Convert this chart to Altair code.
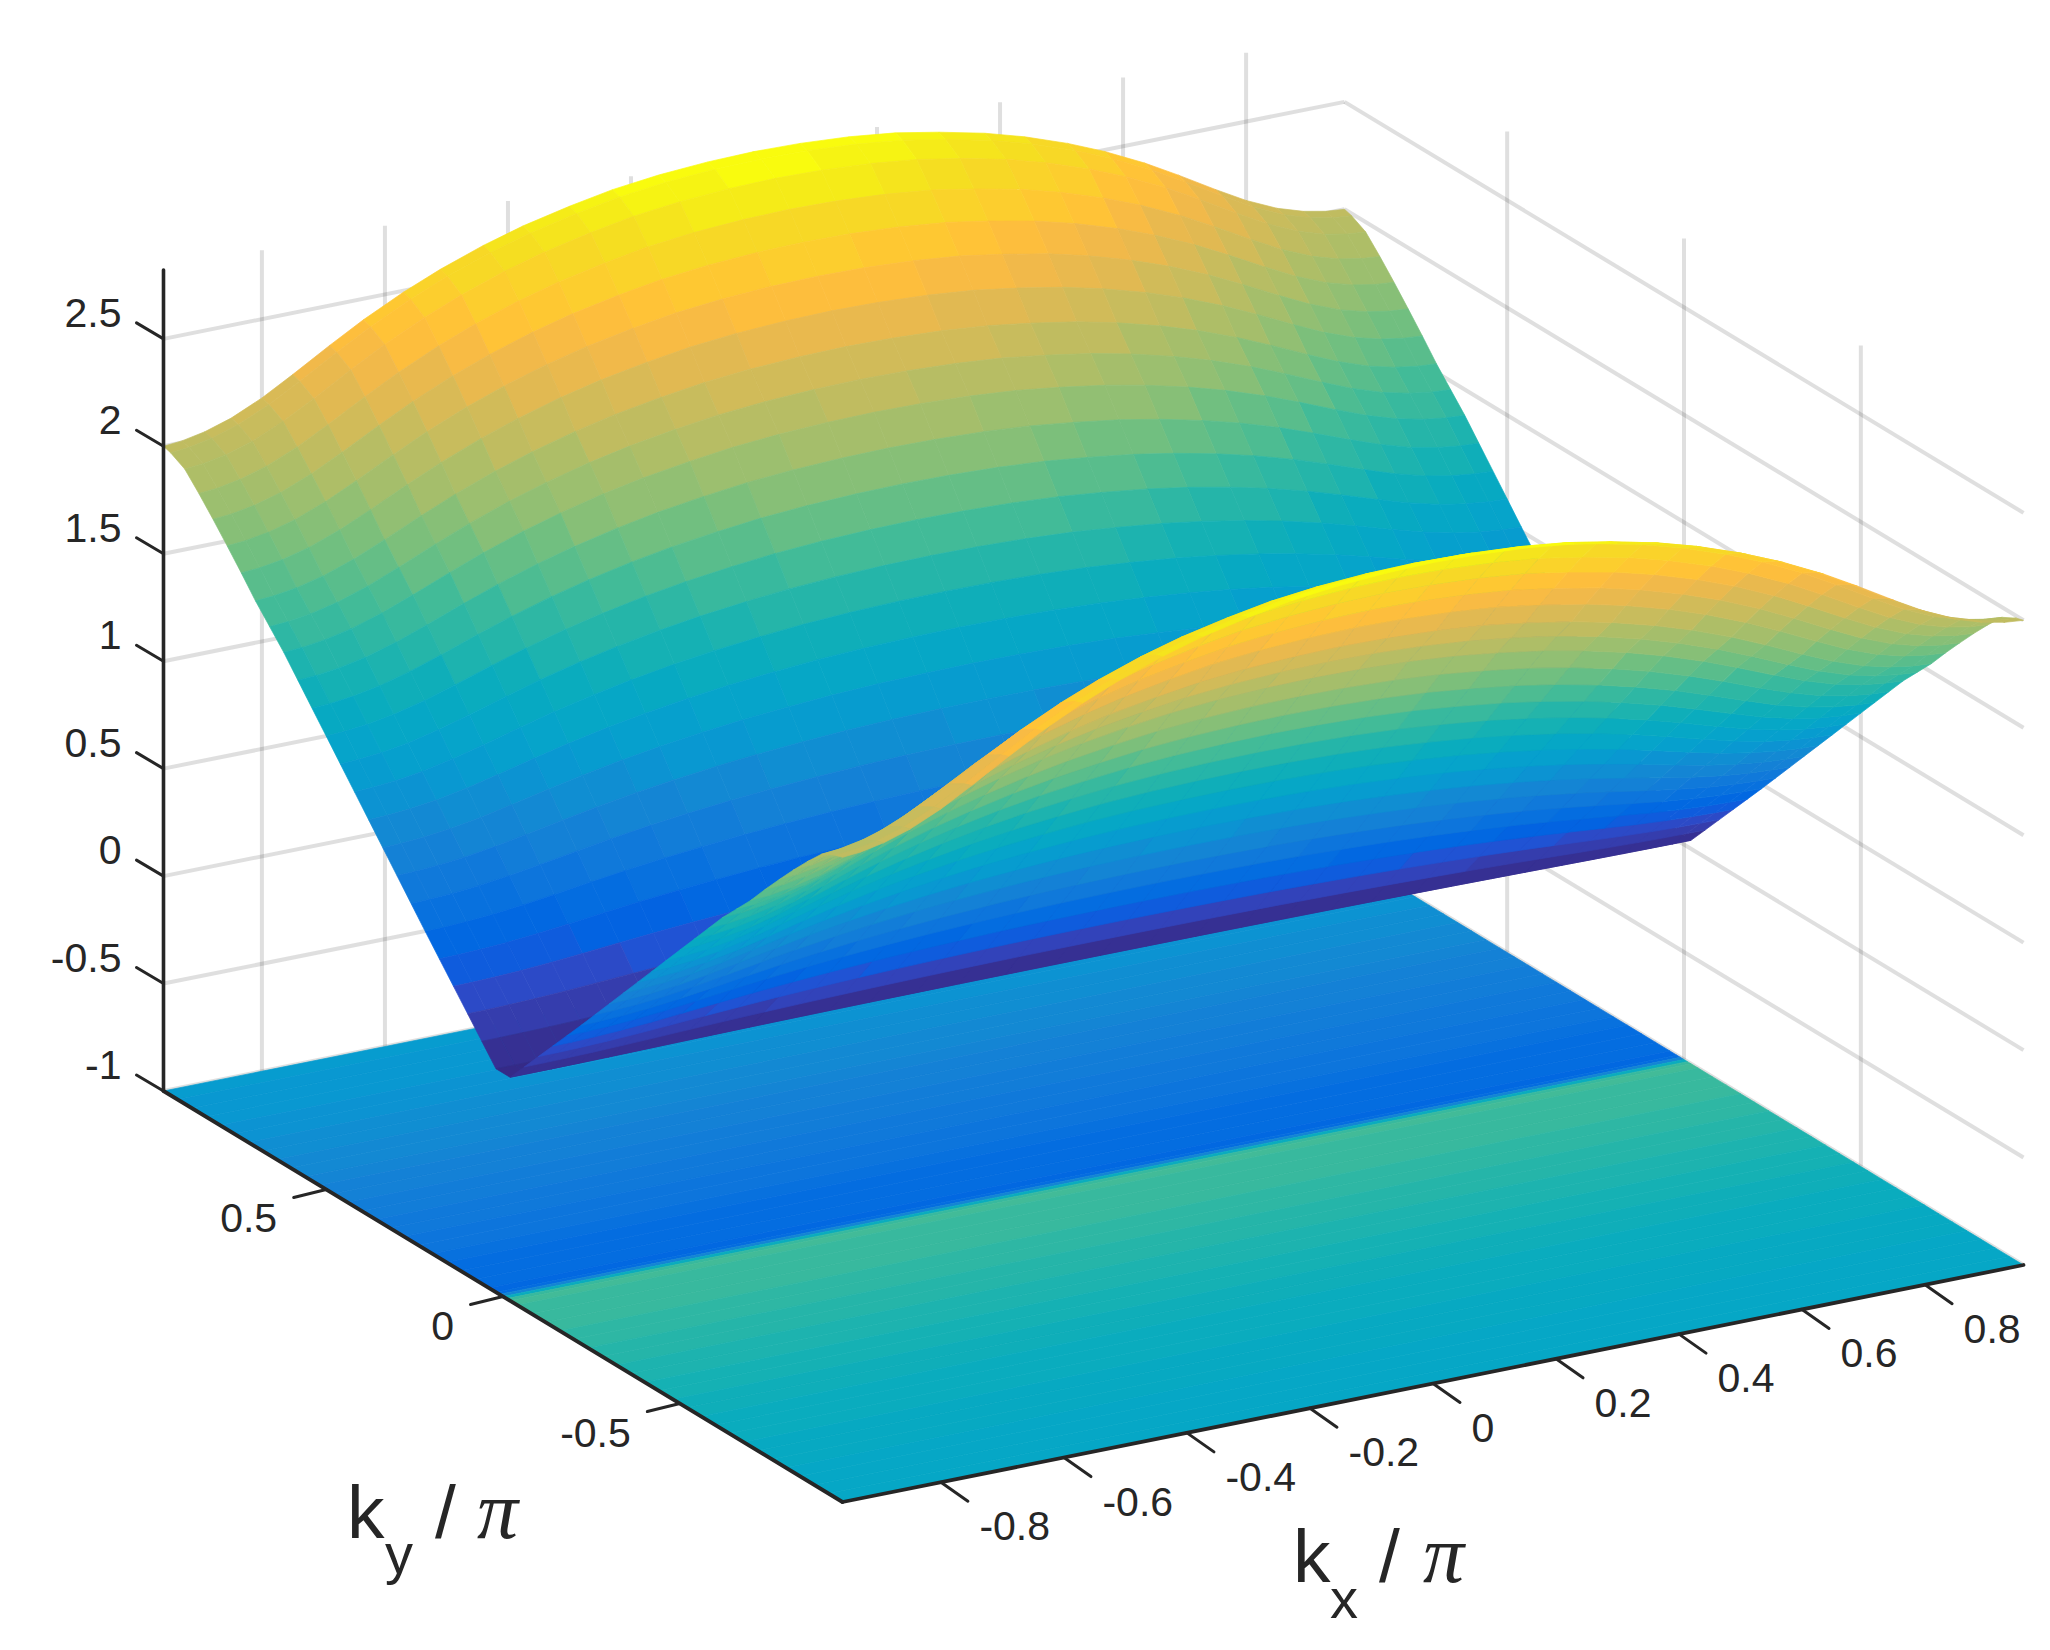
import altair as alt
import pandas as pd

# ---------- values ----------
KMAX = 0.96
ZMIN, ZMAX = -1.0, 2.82

# kx grid and the height of the surface along its outer edge |ky| = KMAX
kx_nodes = [-.96, -.93, -.893, -.85, -.80, -.75, -.69, -.635, -.57, -.51, -.44, -.375, -.30, -.23, -.155, -.075, 0,
            .075, .155, .23, .30, .375, .44, .51, .57, .635, .69, .75, .80, .85, .893, .93, .96]
ridge = [2.00, 2.008, 2.029, 2.068, 2.133, 2.213, 2.314, 2.402, 2.493, 2.565, 2.636, 2.690, 2.738, 2.775, 2.80, 2.815,
         2.82,
         2.815, 2.80, 2.775, 2.738, 2.690, 2.636, 2.565, 2.493, 2.402, 2.314, 2.213, 2.133, 2.068, 2.029, 2.008, 2.00]

# |ky| grid and fraction of the edge height reached at that |ky|
ky_nodes = [.96, .94, .90, .86, .82, .78, .74, .70, .66, .62, .58, .54, .50, .46, .42, .38, .34, .30, .26, .22, .18,
            .14, .10, .06, .02]
ky_frac = [1.0, .995, .977, .94, .90, .858, .815, .77, .73, .69, .645, .60, .555, .51, .465, .42, .375, .33, .285, .24,
           .196, .152, .108, .064, .02]

# colour value of the plane on the floor, by ky
floor_ky = [.96, .92, .88, .84, .80, .76, .72, .68, .64, .60, .56, .52, .48, .44, .40, .36, .32, .28, .24, .20, .16,
            .12, .08, .04, .02, .01, 0, -.01, -.02, -.04, -.08, -.12, -.16, -.20, -.24, -.28, -.32, -.36, -.40, -.44,
            -.48, -.52, -.56, -.60, -.64, -.68, -.72, -.76, -.80, -.84, -.88, -.92, -.96]
floor_val = [.97, .955, .94, .925, .905, .885, .865, .845, .82, .795, .77, .745, .72, .695, .67, .645, .62, .60, .575,
             .55, .525, .505, .485, .465, .455, .52, .96, 1.40, 1.49, 1.48, 1.46, 1.44, 1.42, 1.40, 1.38, 1.36, 1.34,
             1.32, 1.30, 1.28, 1.26, 1.24, 1.22, 1.20, 1.185, 1.17, 1.155, 1.14, 1.125, 1.11, 1.10, 1.09, 1.08]

z_ticks = [-1, -.5, 0, .5, 1, 1.5, 2, 2.5]
z_labels = ["-1", "-0.5", "0", "0.5", "1", "1.5", "2", "2.5"]
kx_ticks = [-.8, -.6, -.4, -.2, 0, .2, .4, .6, .8]
kx_labels = ["-0.8", "-0.6", "-0.4", "-0.2", "0", "0.2", "0.4", "0.6", "0.8"]
ky_ticks = [.5, 0, -.5]
ky_labels = ["0.5", "0", "-0.5"]

parula = """0.2081 0.1663 0.5292;0.2116 0.1898 0.5777;0.2123 0.2138 0.6270;0.2081 0.2386 0.6771;0.1959 0.2645 0.7279;
0.1707 0.2919 0.7792;0.1253 0.3242 0.8303;0.0591 0.3598 0.8683;0.0117 0.3875 0.8820;0.0060 0.4086 0.8828;
0.0165 0.4266 0.8786;0.0329 0.4430 0.8720;0.0498 0.4586 0.8641;0.0629 0.4737 0.8554;0.0723 0.4887 0.8467;
0.0779 0.5040 0.8384;0.0793 0.5200 0.8312;0.0749 0.5375 0.8263;0.0641 0.5570 0.8240;0.0488 0.5772 0.8228;
0.0343 0.5966 0.8199;0.0265 0.6137 0.8135;0.0239 0.6287 0.8038;0.0231 0.6418 0.7913;0.0228 0.6535 0.7768;
0.0267 0.6642 0.7607;0.0384 0.6743 0.7436;0.0590 0.6838 0.7254;0.0843 0.6928 0.7062;0.1133 0.7015 0.6859;
0.1453 0.7098 0.6646;0.1801 0.7177 0.6424;0.2178 0.7250 0.6193;0.2586 0.7317 0.5954;0.3022 0.7376 0.5712;
0.3482 0.7424 0.5473;0.3953 0.7459 0.5244;0.4420 0.7481 0.5033;0.4871 0.7491 0.4840;0.5300 0.7491 0.4661;
0.5709 0.7485 0.4494;0.6099 0.7473 0.4337;0.6473 0.7456 0.4188;0.6834 0.7435 0.4044;0.7184 0.7411 0.3905;
0.7525 0.7384 0.3768;0.7858 0.7356 0.3633;0.8185 0.7327 0.3498;0.8507 0.7299 0.3360;0.8824 0.7274 0.3217;
0.9139 0.7258 0.3063;0.9450 0.7261 0.2886;0.9739 0.7314 0.2666;0.9938 0.7455 0.2403;0.9990 0.7653 0.2164;
0.9955 0.7861 0.1967;0.9880 0.8066 0.1794;0.9789 0.8271 0.1633;0.9697 0.8481 0.1475;0.9626 0.8705 0.1309;
0.9589 0.8949 0.1132;0.9598 0.9218 0.0948;0.9661 0.9514 0.0755;0.9763 0.9831 0.0538"""
palette = ["#%02x%02x%02x" % tuple(round(float(c) * 255) for c in row.split()) for row in parula.split(";")]

# ---------- the orthographic view of the box ----------
W, H = 2034, 1634
OFF = 8


def view(kx, ky, z):
    u = (kx + KMAX) / (2 * KMAX)
    v = (ky + KMAX) / (2 * KMAX)
    return (842.5 + 1181 * u - 679 * v, 1502 - 237 * u - 411 * v - 214.9 * (z + 1))


def poly(corners, value):
    ring = [list(view(*c)) for c in corners]
    ring.append(ring[0])
    return {"type": "Feature", "geometry": {"type": "Polygon", "coordinates": [ring]}, "properties": {"z": value}}


# floor plane, one band per ky step
floor_features = []
for a in range(len(floor_ky) - 1):
    k0, k1 = floor_ky[a], floor_ky[a + 1]
    floor_features.append(poly([(-KMAX, k0, ZMIN), (KMAX, k0, ZMIN), (KMAX, k1, ZMIN), (-KMAX, k1, ZMIN)],
                               (floor_val[a] + floor_val[a + 1]) / 2))

# surface, drawn back to front: ky from +KMAX to -KMAX, kx from +KMAX to -KMAX
ky_all = ky_nodes + [-k for k in reversed(ky_nodes)]
frac_all = ky_frac + list(reversed(ky_frac))
surf_features = []
for j in range(len(ky_all) - 1):
    for i in range(len(kx_nodes) - 2, -1, -1):
        pts = []
        zs = []
        for ii, jj in ((i, j), (i + 1, j), (i + 1, j + 1), (i, j + 1)):
            zv = ridge[ii] * frac_all[jj]
            zs.append(zv)
            pts.append((kx_nodes[ii], ky_all[jj], zv))
        surf_features.append(poly(pts, sum(zs) / 4))

# ---------- rules and text tables, all from the tick values ----------
grid_rows = []
for z in z_ticks:
    a, b, c = view(-KMAX, KMAX, z), view(KMAX, KMAX, z), view(KMAX, -KMAX, z)
    grid_rows.append((*a, *b))
    grid_rows.append((*b, *c))
for k in kx_ticks:
    grid_rows.append((*view(k, KMAX, ZMIN), *view(k, KMAX, ZMAX)))
for k in ky_ticks:
    grid_rows.append((*view(KMAX, k, ZMIN), *view(KMAX, k, ZMAX)))
grid_df = pd.DataFrame(grid_rows, columns=["x", "y", "x2", "y2"])

axis_rows = [
    (*view(-KMAX, KMAX, ZMIN), *view(-KMAX, KMAX, ZMAX), 3.6),
    (*view(-KMAX, KMAX, ZMIN), *view(-KMAX, -KMAX, ZMIN), 3.8),
    (*view(-KMAX, -KMAX, ZMIN), *view(KMAX, -KMAX, ZMIN), 3.8),
]
text_rows = []
for z, lab in zip(z_ticks, z_labels):
    x, y = view(-KMAX, KMAX, z)
    axis_rows.append((x, y, x - 27, y - 16, 3))
    text_rows.append((x - 42, y - 27 + 15, lab, "right"))
for k, lab in zip(kx_ticks, kx_labels):
    x, y = view(k, -KMAX, ZMIN)
    axis_rows.append((x, y, x + 27, y + 19, 3))
    text_rows.append((x + 38.5, y + 43 + 15, lab, "left"))
for k, lab in zip(ky_ticks, ky_labels):
    x, y = view(-KMAX, k, ZMIN)
    axis_rows.append((x, y, x - 32.5, y + 8, 3))
    text_rows.append((x - 49, y + 28 + 15, lab, "right"))
axis_df = pd.DataFrame(axis_rows, columns=["x", "y", "x2", "y2", "w"])
tick_text = pd.DataFrame(text_rows, columns=["x", "y", "t", "a"])

title_main = pd.DataFrame([(347, 1538, "k"), (435, 1538, "/"), (1293, 1582, "k"), (1379, 1582, "/")],
                          columns=["x", "y", "t"])
title_sub = pd.DataFrame([(385, 1573, "y"), (1330, 1618, "x")], columns=["x", "y", "t"])
title_pi = pd.DataFrame([(477, 1538, "\u03c0"), (1423, 1582, "\u03c0")], columns=["x", "y", "t"])

# ---------- chart ----------
xs = alt.Scale(domain=[OFF, OFF + W], nice=False, zero=False)
ys = alt.Scale(domain=[OFF + H, OFF], nice=False, zero=False)
X = alt.X("x:Q", scale=xs, axis=None)
Y = alt.Y("y:Q", scale=ys, axis=None)
zscale = alt.Scale(type="quantize", domain=[0.04, 2.82], range=palette)


def shapes(features):
    return alt.Chart(alt.Data(values=features)).mark_geoshape(strokeWidth=0.7).encode(
        fill=alt.Color("properties.z:Q", scale=zscale, legend=None),
        stroke=alt.Color("properties.z:Q", scale=zscale, legend=None),
    ).project(type="identity", scale=1, translate=[-OFF, -OFF])


grid = alt.Chart(grid_df).mark_rule(color="#262626", opacity=0.15, strokeWidth=4).encode(
    x=X, y=Y, x2="x2:Q", y2="y2:Q")
axes = alt.Chart(axis_df).mark_rule(color="#262626", strokeCap="round").encode(
    x=X, y=Y, x2="x2:Q", y2="y2:Q", strokeWidth=alt.StrokeWidth("w:Q", scale=None))


def labels(df, **kw):
    return alt.Chart(df).mark_text(color="#262626", baseline="alphabetic", **kw).encode(x=X, y=Y, text="t:N")


tick_l = labels(tick_text[tick_text.a == "left"], font="Liberation Sans", fontSize=41, align="left")
tick_r = labels(tick_text[tick_text.a == "right"], font="Liberation Sans", fontSize=41, align="right")
t_main = labels(title_main, font="Liberation Sans", fontSize=75, align="left")
t_sub = labels(title_sub, font="Liberation Sans", fontSize=56, align="left")
t_pi = labels(title_pi, font="Liberation Serif", fontSize=82, fontStyle="italic", align="left")

chart = alt.layer(grid, shapes(floor_features), shapes(surf_features), axes, tick_l, tick_r, t_main, t_sub, t_pi
                  ).properties(width=W, height=H, padding=0
                  ).configure_view(stroke=None)

chart.save("out.html", embed_options={"renderer": "svg", "actions": False})
